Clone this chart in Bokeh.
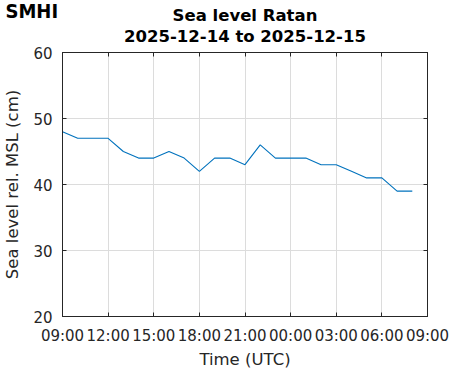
import pandas as pd
from bokeh.plotting import figure
from bokeh.models import (DatetimeAxis, LinearAxis, FixedTicker, DatetimeTickFormatter,
                          Range1d, Title)
from bokeh.embed import file_html
from bokeh.resources import INLINE

# ---- data ----
start_time = "2025-12-14 09:00"
end_time = "2025-12-15 09:00"
sea_level_cm = [48, 47, 47, 47, 45, 44, 44, 45, 44, 42, 44, 44,
                43, 46, 44, 44, 44, 43, 43, 42, 41, 41, 39, 39]
y_ticks = [20, 30, 40, 50, 60]
title_line1 = "Sea level Ratan"
title_line2 = "2025-12-14 to 2025-12-15"
x_label = "Time (UTC)"
y_label = "Sea level rel. MSL (cm)"
logo_text = "SMHI"

times = pd.date_range(start_time, periods=len(sea_level_cm), freq="1h")
x_ticks = pd.date_range(start_time, end_time, freq="3h")
t0 = pd.Timestamp(start_time).value / 1e6
t1 = pd.Timestamp(end_time).value / 1e6

FONT = "DejaVu Sans"
AX = "#262626"

p = figure(width=471, height=371, x_axis_type="datetime",
           output_backend="svg", toolbar_location=None,
           min_border_left=61, min_border_right=44,
           min_border_top=52, min_border_bottom=53)
p.x_range = Range1d(t0, t1)
p.y_range = Range1d(20, 60)
p.background_fill_color = "white"
p.border_fill_color = "white"
p.outline_line_color = AX
p.outline_line_width = 1

fmt = DatetimeTickFormatter(hours="%H:%M", days="%H:%M", hourmin="%H:%M")
xt = FixedTicker(ticks=[t.value / 1e6 for t in x_ticks])
yt = FixedTicker(ticks=y_ticks)

p.xaxis[0].ticker = xt
p.xaxis[0].formatter = fmt
p.yaxis[0].ticker = yt


def style(ax, labels=True):
    ax.axis_line_color = AX
    ax.major_tick_line_color = AX
    ax.major_tick_in = 4
    ax.major_tick_out = 0
    ax.minor_tick_line_color = None
    ax.major_label_text_font = FONT
    ax.major_label_text_color = AX
    ax.axis_label_text_font = FONT
    ax.axis_label_text_font_style = "normal"
    ax.axis_label_text_font_size = "16.5px"
    ax.axis_label_text_color = AX
    if labels:
        ax.major_label_text_font_size = "15px"
        ax.major_label_standoff = 10
    else:
        ax.major_label_text_font_size = "0px"
        ax.major_label_standoff = 0


style(p.xaxis[0])
style(p.yaxis[0])
p.xaxis[0].axis_label = x_label
p.xaxis[0].axis_label_standoff = 2
p.yaxis[0].axis_label = y_label
p.yaxis[0].axis_label_standoff = 8

top_ax = DatetimeAxis(ticker=xt, formatter=fmt)
style(top_ax, labels=False)
p.add_layout(top_ax, "above")
right_ax = LinearAxis(ticker=yt)
style(right_ax, labels=False)
p.add_layout(right_ax, "right")

p.xgrid.ticker = xt
p.ygrid.ticker = yt
p.grid.grid_line_color = "#dcdcdc"
p.grid.grid_line_width = 1

p.line(times, sea_level_cm, line_color="#0072BD", line_width=1.1)

# titles (stacked outward from the frame)
p.add_layout(Title(text=title_line2, align="center", text_font=FONT,
                   text_font_style="bold", text_font_size="16.5px",
                   text_color="black", standoff=14), "above")
p.add_layout(Title(text=title_line1, align="center", text_font=FONT,
                   text_font_style="bold", text_font_size="16.5px",
                   text_color="black", standoff=-15), "above")

# logo (plot title, outermost)
p.title.text = logo_text
p.title.align = "left"
p.title.offset = -57
p.title.standoff = -23
p.title.text_font = "DejaVu Sans Condensed, DejaVu Sans"
p.title.text_font_style = "bold"
p.title.text_font_size = "20px"
p.title.text_color = "black"

open("out.html", "w").write(file_html(p, INLINE))
